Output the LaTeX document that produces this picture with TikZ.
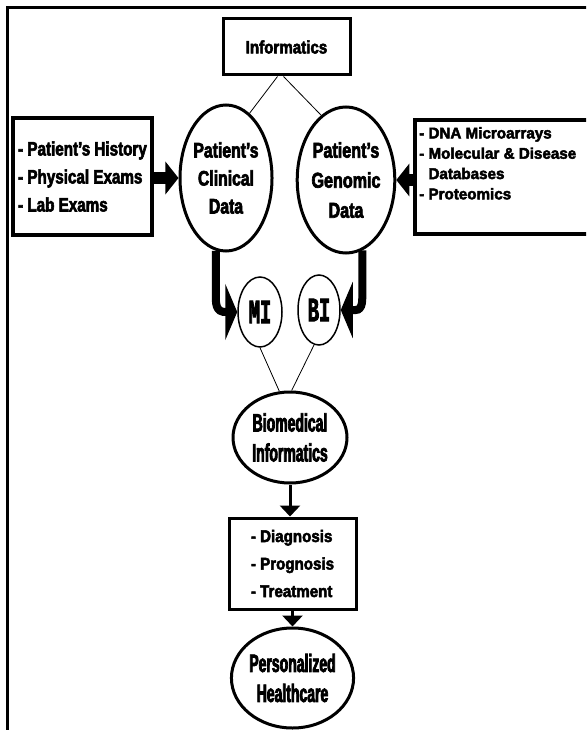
\documentclass[tikz,border=0pt]{standalone}
\usepackage{fontspec}
\usetikzlibrary{shapes.geometric,arrows.meta}
\newfontfamily\heavy{Liberation Sans}[UprightFont=* Bold, FakeBold=3]
\newfontfamily\slab{Liberation Mono}[UprightFont=* Bold, FakeStretch=0.55, FakeBold=2.5]
\newcommand\hv[3]{\heavy\fontsize{#1}{#2}\selectfont\addfontfeatures{FakeStretch=#3}}
\tikzset{
  boxnode/.style={draw, rectangle, inner sep=0pt},
  ellnode/.style={draw, ellipse, line width=3pt, inner sep=0pt, align=center},
  smallell/.style={draw, ellipse, line width=1.5pt, inner sep=0pt, font=\slab\fontsize{34}{34}\selectfont},
  thin/.style={line width=0.8pt},
  fatarrow/.style={line width=12pt, -{Triangle[length=13pt,width=32pt]}},
  bendarrow/.style={line width=8pt, -{Triangle[length=12pt,width=56pt]}},
  downarrow/.style={line width=3pt, -{Triangle[length=11pt,width=20pt]}},
}
\begin{document}
\begin{tikzpicture}[x=1pt,y=-1pt]
\useasboundingbox (0,0) rectangle (586,730);
\begin{scope}
\clip (0,0) rectangle (586,730);
% frame
\draw[line width=3pt] (7,731) -- (7,8) -- (587,8);

% nodes
\node[boxnode, line width=3pt, minimum width=127pt, minimum height=56pt, font={\hv{18}{22}{0.84}}] (info) at (286.5,47) {Informatics};

\node[boxnode, line width=4pt, minimum width=139pt, minimum height=117pt, align=left, font={\hv{19.5}{28}{0.78}}] (lbox) at (82.5,176.5) {- Patient’s History\\- Physical Exams\\- Lab Exams};

\node[ellnode, minimum width=92pt, minimum height=146pt, font={\hv{21}{28}{0.75}}] (clin) at (226,178) {Patient’s\\Clinical\\Data};
\node[ellnode, minimum width=88pt, minimum height=146pt, font={\hv{21.5}{30}{0.75}}] (gen) at (346,180) {Patient’s\\Genomic\\Data};

\node[boxnode, line width=4pt, anchor=north west, minimum width=200pt, minimum height=114pt] (rbox) at (413,118) {};
\node[anchor=north west, align=left, inner sep=0pt, font={\hv{15.5}{20.3}{0.98}}] (rtext) at (419,127) {- DNA Microarrays\\- Molecular \& Disease\\\phantom{- }Databases\\- Proteomics};

\node[smallell, minimum width=44pt, minimum height=70pt] (mi) at (260,312) {MI};
\node[smallell, minimum width=42pt, minimum height=70pt] (bi) at (319,310) {BI};

\node[ellnode, minimum width=114pt, minimum height=91pt, font={\hv{25}{30}{0.56}}] (bio) at (290,437.5) {Biomedical\\Informatics};

\node[boxnode, line width=3pt, minimum width=127pt, minimum height=91pt, align=left, font={\hv{16.8}{27.5}{0.9}}] (dx) at (292.5,563.5) {- Diagnosis\\- Prognosis\\- Treatment};

\node[ellnode, minimum width=111pt, minimum height=100pt, font={\hv{25}{30}{0.56}}] (ph) at (292.5,678) {Personalized\\Healthcare};

% connectors
\draw[thin] ([xshift=-9pt]info.south) -- (clin.70);
\draw[thin] ([xshift=-3pt]info.south) -- (gen.111);

\draw[fatarrow] (lbox.east |- clin.west) -- (clin.west);
\draw[fatarrow] (rbox.west |- gen.east) -- (gen.east);

\draw[bendarrow] (clin.262) -- ++(0,48) .. controls +(0,14) and +(-14,0) .. (mi.west);
\draw[bendarrow] (gen.283) -- ++(0,48) .. controls +(0,14) and +(14,0) .. (bi.east);

\draw[thin] (mi.south) -- (bio.103);
\draw[thin] (bi.262) -- (bio.88);

\draw[downarrow] (bio.south) -- (bio.south |- dx.north);
\draw[downarrow] (dx.south) -- (ph.north);
\end{scope}
\end{tikzpicture}
\end{document}
